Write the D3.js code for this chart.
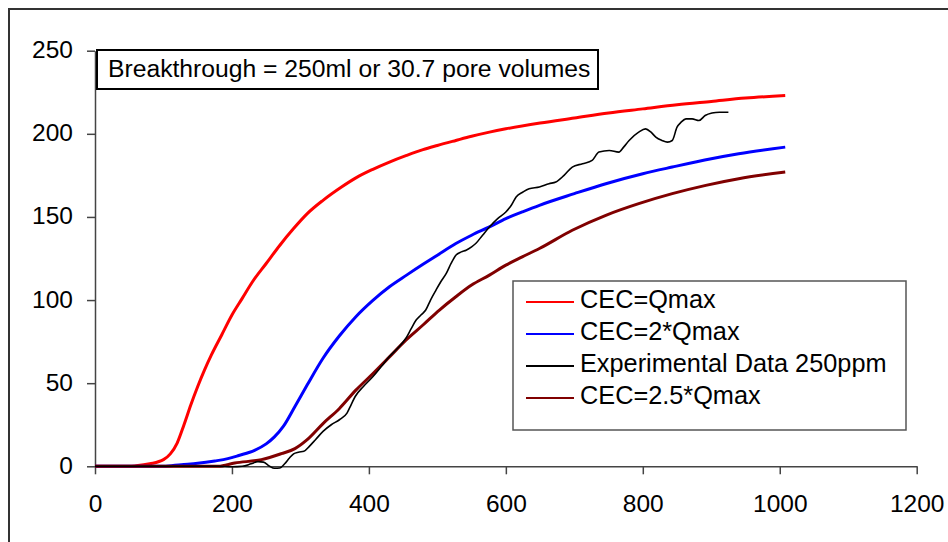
<!DOCTYPE html>
<html>
<head>
<meta charset="utf-8">
<script src="https://cdn.jsdelivr.net/npm/d3@7/dist/d3.min.js"></script>
<style>
  html, body { margin: 0; padding: 0; background: #fff; }
  svg { display: block; font-family: "Liberation Sans", Arial, sans-serif; }
</style>
</head>
<body>
<svg id="chart" width="948" height="542"></svg>
<script>
// Breakthrough curves: effluent concentration vs. volume passed
const xTicks = [0, 200, 400, 600, 800, 1000, 1200];
const yTicks = [0, 50, 100, 150, 200, 250];

const seriesNames = ["CEC=Qmax", "CEC=2*Qmax", "Experimental Data 250ppm", "CEC=2.5*Qmax"];
const seriesColors = ["#ff0000", "#0000ff", "#000000", "#800000"];

// model: CEC = Qmax
const cec1 = [[0,0],[50,0],[60,0.3],[80,1.5],[100,4],[110,7.5],[120,14],[130,25],[140,37],[150,48],
  [160,58],[170,67],[185,79],[200,91],[215,101],[230,111],[250,122],[270,133],[290,143],[310,152],
  [333,160],[360,168],[381,173.5],[405,178.5],[430,183],[455,187],[479,190.5],[500,193],[527,196],[550,198.5],
  [576,201],[600,203],[650,206.5],[700,209.5],[750,212.5],[800,215],[850,217.5],[900,219.5],[950,221.5],[1008,223]];

// model: CEC = 2*Qmax
const cec2 = [[0,0],[100,0],[126,1],[150,1.8],[175,3.2],[194,4.6],[210,6.5],[233,9.6],[250,13.5],[262,17.7],
  [275,24],[292,36],[310,49],[333,65],[357,78.5],[381,90],[405,99.5],[430,108],[455,115],[479,121.5],
  [500,127],[527,134],[550,139],[576,144],[600,149],[624,153],[649,157],[700,164],[746,170],[800,176],
  [843,180],[900,185],[940,188],[1008,192]];

// measured effluent, 250 ppm feed
const expData = [[0,0],[100,0],[180,0],[200,-0.3],[215,0],[228,1.5],[238,2.8],[246,2.5],[255,0],[262,-1.2],
  [270,-1],[277,1.5],[284,5],[290,7.5],[297,8.5],[305,9],[313,12],[322,16],[333,21],[345,25],
  [357,28],[368,32],[374,37],[380,42],[392,48],[406,54],[418,60],[430,66],[442,71],[454,77],
  [462,83],[469,88],[476,91],[483,94],[490,100],[498,106],[505,111],[513,116],[520,122],[527,127],
  [535,129],[542,130],[550,132],[556,134],[566,139],[576,144],[588,149],[600,153],[608,157],[615,162],
  [625,165],[634,167],[649,168],[663,170],[673,171],[685,175],[697,180],[712,182],[726,184],[736,189],
  [751,190],[765,189],[772,192],[780,196],[794,201],[804,203],[812,201],[819,198],[828,196],[836,195],
  [843,196],[850,204],[856,207],[863,209],[872,209],[882,208],[891,211],[901,212.5],[912,213],[925,213]];

// model: CEC = 2.5*Qmax
const cec25 = [[0,0],[180,0],[204,2],[243,4],[272,7.6],[292,10.6],[309,15.7],[333,25.7],[357,34.8],[381,45.8],
  [406,55.8],[430,65.8],[454,75.9],[479,85],[503,94],[527,102],[550,109],[576,115],[600,121],[624,126],
  [649,131],[697,142],[746,151],[794,158],[843,164],[892,169],[940,173],[1008,177]];

const seriesData = [cec1, cec2, expData, cec25];
const seriesWidths = [3, 3, 1.6, 3];

const annotation = "Breakthrough = 250ml or 30.7 pore volumes";

const svg = d3.select("#chart");
const FONT = 24.5;

// outer frame
svg.append("rect")
  .attr("x", 9).attr("y", 9).attr("width", 960).attr("height", 560)
  .attr("fill", "none").attr("stroke", "#333").attr("stroke-width", 2);

const x = d3.scaleLinear().domain([0, 1200]).range([95, 916.7]);
const y = d3.scaleLinear().domain([0, 250]).range([466.3, 50.7]);

const axisColor = "#444";

// x axis
const gx = svg.append("g").attr("transform", `translate(0,${y(0)})`)
  .call(d3.axisBottom(x).tickValues(xTicks).tickSize(8).tickSizeOuter(0).tickPadding(0).tickFormat(d3.format("d")));
gx.select(".domain").attr("stroke", axisColor).attr("stroke-width", 1.5);
gx.selectAll(".tick line").attr("stroke", axisColor).attr("stroke-width", 1.5);
gx.selectAll(".tick text").attr("font-size", FONT).attr("fill", "#000")
  .attr("y", 46).attr("dy", 0).style("font-family", "Liberation Sans, Arial, sans-serif");

// y axis
const gy = svg.append("g").attr("transform", `translate(${x(0)},0)`)
  .call(d3.axisLeft(y).tickValues(yTicks).tickSize(8).tickSizeOuter(0).tickPadding(0).tickFormat(d3.format("d")));
gy.select(".domain").attr("stroke", axisColor).attr("stroke-width", 1.5);
gy.selectAll(".tick line").attr("stroke", axisColor).attr("stroke-width", 1.5);
gy.selectAll(".tick text").attr("font-size", FONT).attr("fill", "#000")
  .attr("x", -22).attr("dy", 7).style("font-family", "Liberation Sans, Arial, sans-serif");

// series lines
const line = d3.line()
  .x(d => x(d[0]))
  .y(d => y(d[1]))
  .curve(d3.curveMonotoneX);

const drawOrder = [0, 1, 3, 2];
drawOrder.forEach(i => {
  svg.append("path")
    .datum(seriesData[i])
    .attr("d", line)
    .attr("fill", "none")
    .attr("stroke", seriesColors[i])
    .attr("stroke-width", seriesWidths[i])
    .attr("stroke-linejoin", "round");
});

// annotation box
svg.append("rect")
  .attr("x", 97).attr("y", 50).attr("width", 501).attr("height", 39)
  .attr("fill", "#fff").attr("stroke", "#000").attr("stroke-width", 2);
svg.append("text")
  .attr("x", 108).attr("y", 77)
  .attr("font-size", 24.7)
  .text(annotation);

// legend
const legend = svg.append("g");
legend.append("rect")
  .attr("x", 513).attr("y", 281).attr("width", 393).attr("height", 149)
  .attr("fill", "#fff").attr("stroke", "#555").attr("stroke-width", 1.5);
seriesNames.forEach((name, i) => {
  const ly = 302 + i * 32;
  legend.append("line")
    .attr("x1", 526).attr("x2", 574).attr("y1", ly).attr("y2", ly)
    .attr("stroke", seriesColors[i]).attr("stroke-width", 2);
  legend.append("text")
    .attr("x", 580).attr("y", ly + 6)
    .attr("font-size", 25.3)
    .text(name);
});
</script>
</body>
</html>
